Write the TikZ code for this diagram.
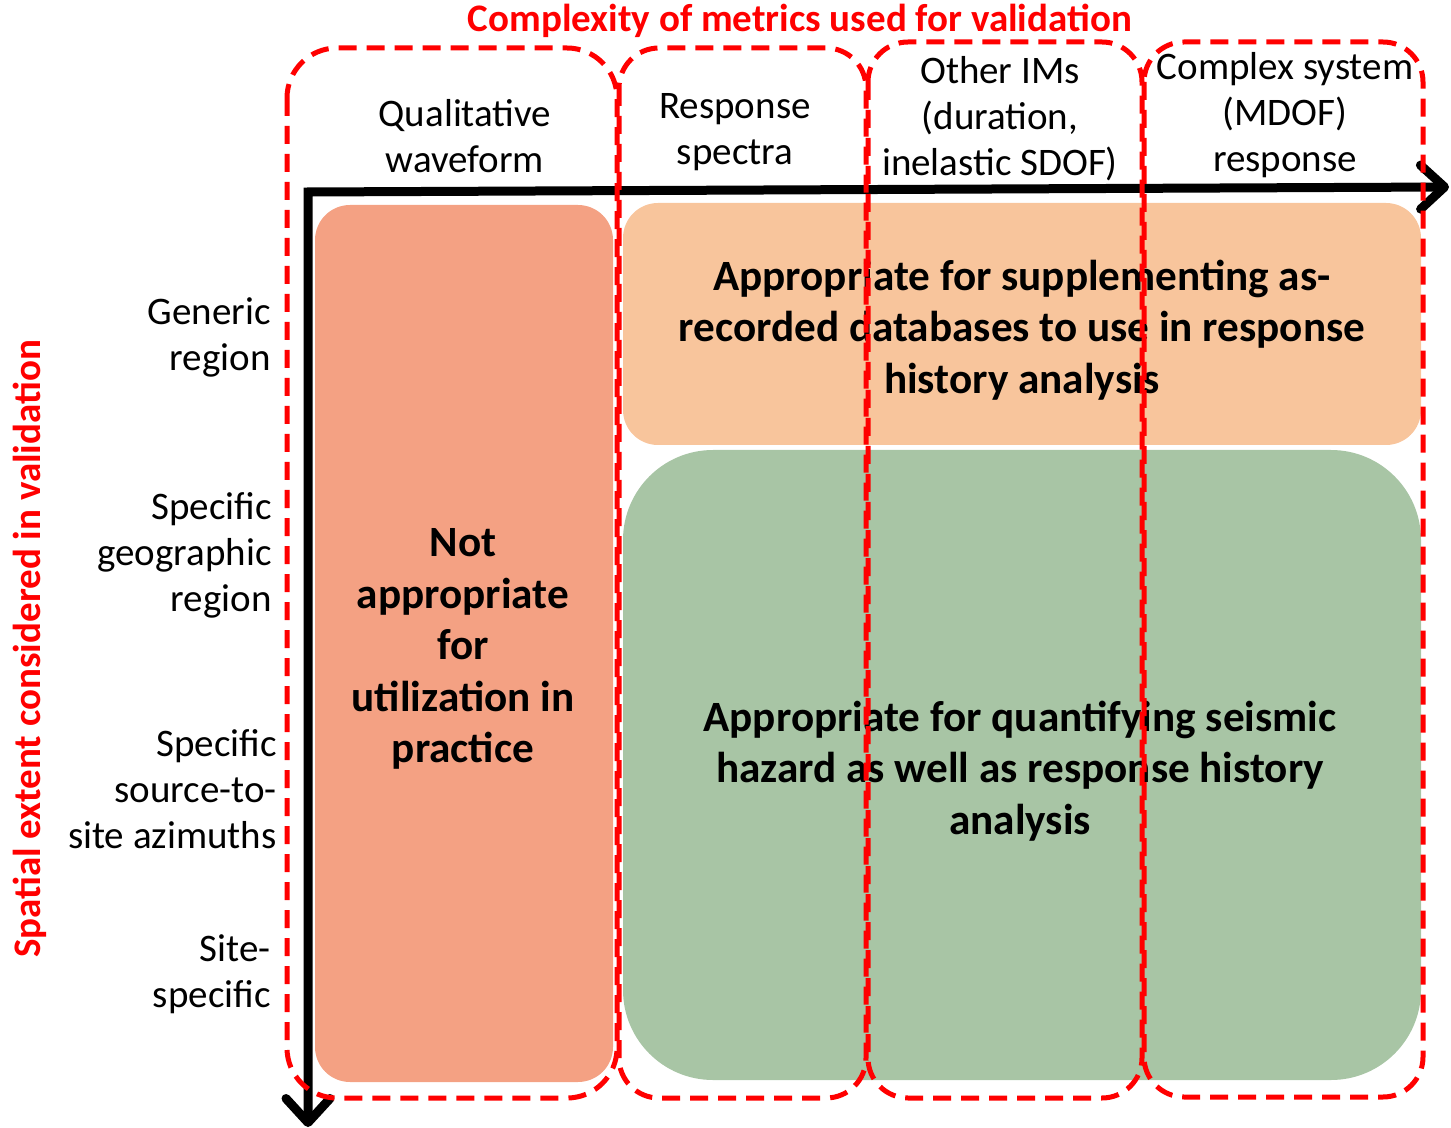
\documentclass[tikz,border=0pt]{standalone}
\usepackage{fontspec}
\setmainfont{Carlito}
\usetikzlibrary{arrows.meta}
\definecolor{salmon}{HTML}{F4A183}
\definecolor{peach}{HTML}{F8C59C}
\definecolor{sage}{HTML}{A8C5A5}
\definecolor{redline}{HTML}{FF0000}
\tikzset{
  hdr/.style={align=center, font=\fontsize{19.5}{23}\selectfont, inner sep=0pt},
  rowlbl/.style={align=right, anchor=east, font=\fontsize{19.5}{23}\selectfont, inner sep=0pt},
  boxtxt/.style={align=center, font=\fontsize{21.6}{25.8}\selectfont\bfseries, inner sep=0pt},
  redtxt/.style={font=\fontsize{19.5}{23}\selectfont\bfseries, text=redline, inner sep=0pt},
  redbox/.style={draw=redline, line width=2.5pt, dash pattern=on 9pt off 5pt, rounded corners=20pt},
  axisline/.style={line width=4.5pt, line join=miter,
    {Straight Barb[length=12pt,width=22pt,round]}-{Straight Barb[length=12pt,width=22pt,round]}}
}
\begin{document}
\begin{tikzpicture}[x=0.5pt,y=-0.5pt]
\useasboundingbox (0,0) rectangle (1451,1128);

% filled regions
\fill[salmon, rounded corners=17.5pt] (315,205) rectangle (613,1082);
\fill[peach, rounded corners=17.5pt] (623,203) rectangle (1421,445);
\fill[sage, rounded corners=45pt] (623,450) rectangle (1421,1080);

% region texts
\node[boxtxt] (notapp) at (463,649) {Not\\appropriate\\for\\utilization in\\practice};
\node[boxtxt] (supp) at (1022,330) {Appropriate for supplementing as-\\recorded databases to use in response\\history analysis};
\node[boxtxt] (quant) at (1020,771) {Appropriate for quantifying seismic\\hazard as well as response history\\analysis};

% column headers
\node[hdr] (c1) at (465,136) {Qualitative\\waveform};
\node[hdr] (c2) at (735,132) {Response\\spectra};
\node[hdr] (c3) at (1000,119) {Other IMs\\(duration,\\inelastic SDOF)};
\node[hdr] (c4) at (1285,115) {Complex system\\(MDOF)\\response};

% row labels
\node[rowlbl] (r1) at (271,337) {Generic\\region};
\node[rowlbl] (r2) at (272,555) {Specific\\geographic\\region};
\node[rowlbl] (r3) at (277,789) {Specific\\source-to-\\site azimuths};
\node[rowlbl] (r4) at (271,974) {Site-\\specific};

% axis titles
\node[redtxt] (xtitle) at (800,21) {Complexity of metrics used for validation};
\node[redtxt, rotate=90] (ytitle) at (30,649) {Spatial extent considered in validation};

% axes
\coordinate (O) at (308,192);
\coordinate (xend) at (1449,187);
\coordinate (yend) at (308,1127);
\draw[axisline] (xend) -- (O) -- (yend);

% dashed column boxes
\draw[redbox, rounded corners=25pt] (287,48) rectangle (617,1098);
\draw[redbox] (619,48) rectangle (866,1098);
\draw[redbox] (868,42) rectangle (1142,1098);
\draw[redbox] (1144,42) rectangle (1423,1097);
\end{tikzpicture}
\end{document}
